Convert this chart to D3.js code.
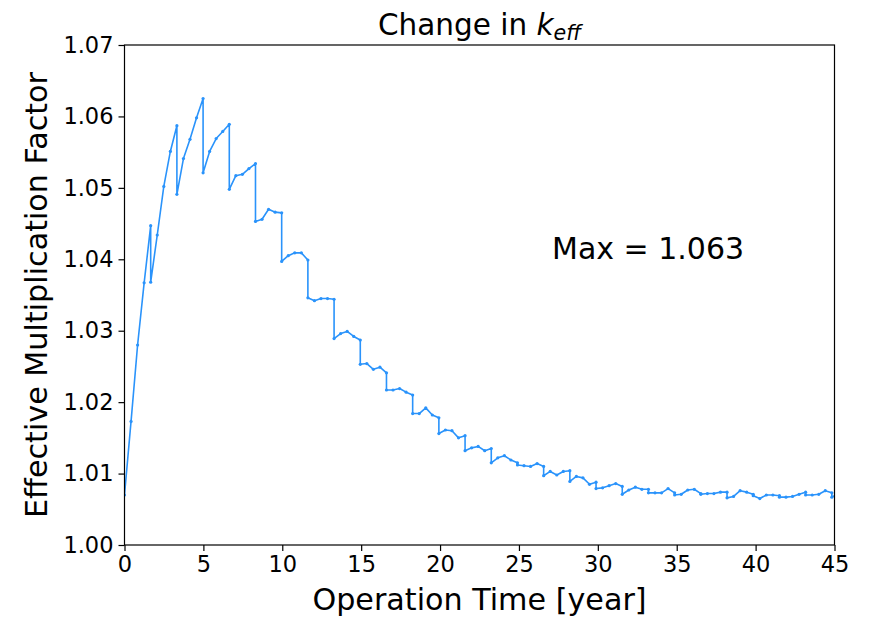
<!DOCTYPE html>
<html>
<head>
<meta charset="utf-8">
<script src="https://cdn.jsdelivr.net/npm/d3@7"></script>
<style>
  html, body { margin: 0; padding: 0; background: #fff; }
  svg { display: block; font-family: "DejaVu Sans", sans-serif; }
</style>
</head>
<body>
<svg id="chart" width="872" height="617"></svg>
<script>
// ---- Data ----
// Time of each depletion step [year]
const stepTimes = [
  0, 0.415, 0.830, 1.245, 1.660, 2.076, 2.491, 2.906, 3.321, 3.736,
  4.151, 4.566, 4.981, 5.396, 5.811, 6.227, 6.642, 7.057, 7.472, 7.887,
  8.302, 8.717, 9.132, 9.547, 9.962, 10.378, 10.793, 11.208, 11.623, 12.038,
  12.453, 12.868, 13.283, 13.698, 14.113, 14.529, 14.944, 15.359, 15.774, 16.189,
  16.604, 17.019, 17.434, 17.849, 18.264, 18.680, 19.095, 19.510, 19.925, 20.340,
  20.755, 21.170, 21.585, 22.000, 22.415, 22.831, 23.246, 23.661, 24.076, 24.491,
  24.906, 25.321, 25.736, 26.151, 26.566, 26.982, 27.397, 27.812, 28.227, 28.642,
  29.057, 29.472, 29.887, 30.302, 30.717, 31.133, 31.548, 31.963, 32.378, 32.793,
  33.208, 33.623, 34.038, 34.453, 34.868, 35.284, 35.699, 36.114, 36.529, 36.944,
  37.359, 37.774, 38.189, 38.604, 39.019, 39.435, 39.850, 40.265, 40.680, 41.095,
  41.510, 41.925, 42.340, 42.755, 43.170, 43.586, 44.001, 44.416, 44.831, 45.246
];
// k_eff per cycle (start of cycle after reload ... end of cycle), 4 steps per cycle
const cycleKeff = [
  [1.0070, 1.0173, 1.0280, 1.0367, 1.0447],
  [1.0368, 1.0434, 1.0502, 1.0551, 1.0587],
  [1.0491, 1.0541, 1.0568, 1.0598, 1.0625],
  [1.0521, 1.0551, 1.0569, 1.0579, 1.0589],
  [1.0498, 1.0517, 1.0519, 1.0527, 1.0534],
  [1.0453, 1.0456, 1.0470, 1.0466, 1.0465],
  [1.0397, 1.0405, 1.0409, 1.0409, 1.0399],
  [1.0346, 1.0342, 1.0345, 1.0345, 1.0344],
  [1.0289, 1.0296, 1.0299, 1.0292, 1.0287],
  [1.0253, 1.0254, 1.0246, 1.0249, 1.0241],
  [1.0217, 1.0217, 1.0219, 1.0214, 1.0210],
  [1.0184, 1.0184, 1.0192, 1.0182, 1.0178],
  [1.0156, 1.0161, 1.0160, 1.0150, 1.0153],
  [1.0132, 1.0136, 1.0138, 1.0132, 1.0135],
  [1.0115, 1.0122, 1.0125, 1.0119, 1.0115],
  [1.0112, 1.0111, 1.0110, 1.0114, 1.0110],
  [1.0097, 1.0103, 1.0098, 1.0103, 1.0104],
  [1.0089, 1.0096, 1.0094, 1.0085, 1.0088],
  [1.0079, 1.0080, 1.0083, 1.0086, 1.0082],
  [1.0071, 1.0077, 1.0081, 1.0078, 1.0078],
  [1.0073, 1.0073, 1.0073, 1.0079, 1.0073],
  [1.0070, 1.0071, 1.0077, 1.0078, 1.0072],
  [1.0071, 1.0072, 1.0072, 1.0074, 1.0074],
  [1.0066, 1.0068, 1.0076, 1.0074, 1.0071],
  [1.0069, 1.0065, 1.0070, 1.0070, 1.0069],
  [1.0067, 1.0067, 1.0068, 1.0071, 1.0074],
  [1.0070, 1.0070, 1.0071, 1.0076, 1.0073],
  [1.0067, 1.0072]
];
const xTicks = [0, 5, 10, 15, 20, 25, 30, 35, 40, 45];
const yTicks = [1.00, 1.01, 1.02, 1.03, 1.04, 1.05, 1.06, 1.07];
const maxLabel = "Max = 1.063";

// ---- Build point table ----
const points = [];
cycleKeff.forEach((vals, c) => {
  vals.forEach((v, i) => points.push({ t: stepTimes[c * 4 + i], k: v }));
});

// ---- Layout ----
const margin = { left: 124.5, top: 45, right: 872 - 834.5, bottom: 617 - 545 };
const svg = d3.select("#chart");
const W = 872, H = 617;
const x = d3.scaleLinear().domain([0, 45]).range([margin.left, W - margin.right]);
const y = d3.scaleLinear().domain([1.00, 1.07]).range([H - margin.bottom, margin.top]);

svg.append("defs").append("clipPath").attr("id", "clip")
  .append("rect")
  .attr("x", x(0)).attr("y", y(1.07))
  .attr("width", x(45) - x(0)).attr("height", y(1.00) - y(1.07));

const color = "#2a93fb";
const plot = svg.append("g").attr("clip-path", "url(#clip)");
plot.append("path")
  .datum(points)
  .attr("fill", "none")
  .attr("stroke", color)
  .attr("stroke-width", 1.6)
  .attr("stroke-linejoin", "round")
  .attr("d", d3.line().x(d => x(d.t)).y(d => y(d.k)));
plot.selectAll("circle.pt").data(points).join("circle")
  .attr("class", "pt")
  .attr("cx", d => x(d.t)).attr("cy", d => y(d.k))
  .attr("r", 1.6).attr("fill", color);

// ---- Axes ----
const xAxis = d3.axisBottom(x).tickValues(xTicks).tickFormat(d3.format("d")).tickSizeOuter(0).tickSize(6).tickPadding(5);
const yAxis = d3.axisLeft(y).tickValues(yTicks).tickFormat(d3.format(".2f")).tickSizeOuter(0).tickSize(6).tickPadding(5);

const gx = svg.append("g").attr("transform", `translate(0,${y(1.00)})`).call(xAxis);
const gy = svg.append("g").attr("transform", `translate(${x(0)},0)`).call(yAxis);
[gx, gy].forEach(g => {
  g.select(".domain").remove();
  g.selectAll(".tick line").attr("stroke", "#000").attr("stroke-width", 1.2);
  g.selectAll(".tick text").attr("fill", "#000").attr("font-size", 22.5)
    .attr("font-family", "DejaVu Sans, sans-serif");
});

// frame (spines)
svg.append("rect")
  .attr("x", x(0)).attr("y", y(1.07))
  .attr("width", x(45) - x(0)).attr("height", y(1.00) - y(1.07))
  .attr("fill", "none").attr("stroke", "#000").attr("stroke-width", 1.2);

// ---- Labels ----
svg.append("text")
  .attr("x", (x(0) + x(45)) / 2).attr("y", 610)
  .attr("text-anchor", "middle").attr("font-size", 30.2)
  .text("Operation Time [year]");

svg.append("text")
  .attr("transform", `translate(47,${(y(1.0) + y(1.07)) / 2}) rotate(-90)`)
  .attr("text-anchor", "middle").attr("font-size", 30.2)
  .text("Effective Multiplication Factor");

const title = svg.append("text")
  .attr("x", (x(0) + x(45)) / 2).attr("y", 35)
  .attr("text-anchor", "middle").attr("font-size", 29.5);
title.append("tspan").text("Change in ");
title.append("tspan").attr("font-style", "italic").text("k");
title.append("tspan").attr("font-style", "italic").attr("font-size", 20.6).attr("dy", 5).text("eff");

svg.append("text")
  .attr("x", 552).attr("y", 259)
  .attr("font-size", 30)
  .text(maxLabel);
</script>
</body>
</html>
